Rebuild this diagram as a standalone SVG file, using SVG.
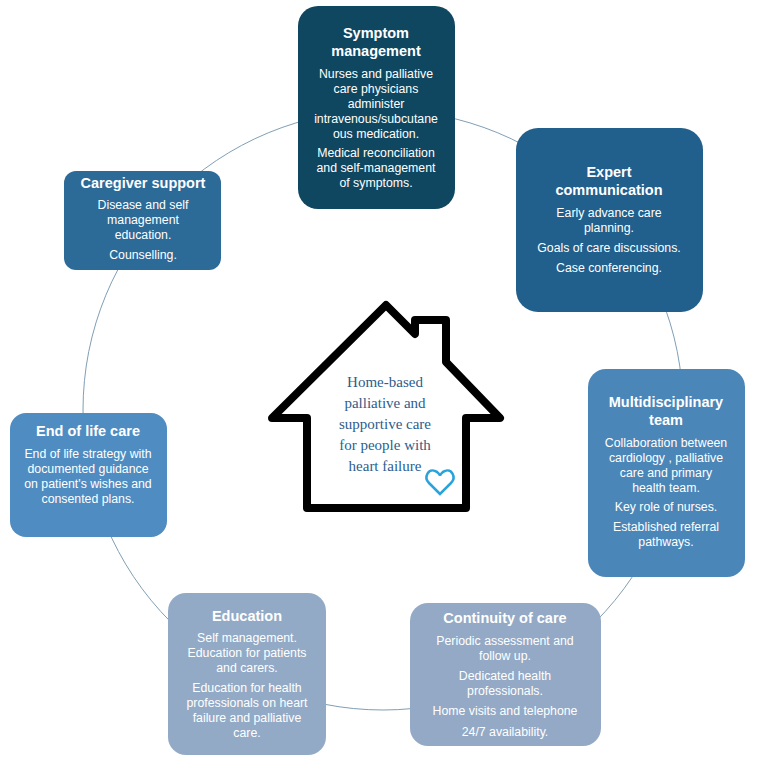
<svg xmlns="http://www.w3.org/2000/svg" width="766" height="758" viewBox="0 0 766 758">
<style>
.t{font-family:"Liberation Sans",Arial,sans-serif;font-weight:bold;font-size:14.5px;fill:#fff;text-anchor:middle}
.b{font-family:"Liberation Sans",Arial,sans-serif;font-size:12.3px;fill:#fff;text-anchor:middle}
.h{font-family:"Liberation Serif","Times New Roman",serif;font-size:15px;fill:#2d5d8c;text-anchor:middle}
</style>
<rect width="766" height="758" fill="#fff"/>
<g id="connectors"><circle cx="383" cy="410" r="300" fill="none" stroke="#7f9fb5" stroke-width="1"/></g>
<g id="house">
<path d="M307,418 H272 L386,305 L415,334 V320 H446 V362 L500,418 H466 V508 H307 Z" fill="#fff" stroke="#000" stroke-width="8" stroke-linejoin="round"/>
<text class="h" x="385" y="387">Home-based</text>
<text class="h" x="385" y="408">palliative and</text>
<text class="h" x="385" y="429">supportive care</text>
<text class="h" x="385" y="450">for people with</text>
<text class="h" x="385" y="471">heart failure</text>
<path d="M440,494 L429,483 C423,477 429,468 435,471 C438,472 440,475 440,476 C440,475 442,472 445,471 C451,468 457,477 451,483 Z" fill="none" stroke="#29a3dc" stroke-width="2.5"/>
</g>
<g id="symptom">
<rect x="298" y="6" width="157" height="203" rx="20" fill="#0f4761"/>
<text class="t" x="376" y="38">Symptom</text><text class="t" x="376" y="56">management</text>
<text class="b" x="376" y="78">Nurses and palliative</text><text class="b" x="376" y="93">care physicians</text><text class="b" x="376" y="108">administer</text><text class="b" x="376" y="123">intravenous/subcutane</text><text class="b" x="376" y="138">ous medication.</text>
<text class="b" x="376" y="157">Medical reconciliation</text><text class="b" x="376" y="172">and self-management</text><text class="b" x="376" y="187">of symptoms.</text>
</g>
<g id="expert">
<rect x="516" y="128" width="187" height="184" rx="22" fill="#215f8c"/>
<text class="t" x="609" y="177">Expert</text><text class="t" x="609" y="195">communication</text>
<text class="b" x="609" y="217">Early advance care</text><text class="b" x="609" y="232">planning.</text>
<text class="b" x="609" y="252">Goals of care discussions.</text>
<text class="b" x="609" y="272">Case conferencing.</text>
</g>
<g id="caregiver">
<rect x="64" y="171" width="157" height="99" rx="12" fill="#2c6a98"/>
<text class="t" x="143" y="188">Caregiver support</text>
<text class="b" x="143" y="209">Disease and self</text><text class="b" x="143" y="224">management</text><text class="b" x="143" y="239">education.</text>
<text class="b" x="143" y="259">Counselling.</text>
</g>
<g id="multidisciplinary">
<rect x="588" y="369" width="157" height="208" rx="18" fill="#4a86b8"/>
<text class="t" x="666" y="407">Multidisciplinary</text><text class="t" x="666" y="425">team</text>
<text class="b" x="666" y="447">Collaboration between</text><text class="b" x="666" y="462">cardiology , palliative</text><text class="b" x="666" y="477">care and primary</text><text class="b" x="666" y="492">health team.</text>
<text class="b" x="666" y="511">Key role of nurses.</text>
<text class="b" x="666" y="531">Established referral</text><text class="b" x="666" y="546">pathways.</text>
</g>
<g id="endoflife">
<rect x="10" y="413" width="157" height="124" rx="16" fill="#4f8cc1"/>
<text class="t" x="88" y="436">End of life care</text>
<text class="b" x="88" y="458">End of life strategy with</text><text class="b" x="88" y="473">documented guidance</text><text class="b" x="88" y="488">on patient's wishes and</text><text class="b" x="88" y="503">consented plans.</text>
</g>
<g id="education">
<rect x="168" y="593" width="158" height="162" rx="18" fill="#93aac6"/>
<text class="t" x="247" y="621">Education</text>
<text class="b" x="247" y="642">Self management.</text><text class="b" x="247" y="657">Education for patients</text><text class="b" x="247" y="672">and carers.</text>
<text class="b" x="247" y="692">Education for health</text><text class="b" x="247" y="707">professionals on heart</text><text class="b" x="247" y="722">failure and palliative</text><text class="b" x="247" y="737">care.</text>
</g>
<g id="continuity">
<rect x="410" y="603" width="191" height="143" rx="18" fill="#93a9c5"/>
<text class="t" x="505" y="623">Continuity of care</text>
<text class="b" x="505" y="645">Periodic assessment and</text><text class="b" x="505" y="660">follow up.</text>
<text class="b" x="505" y="680">Dedicated health</text><text class="b" x="505" y="695">professionals.</text>
<text class="b" x="505" y="715">Home visits and telephone</text>
<text class="b" x="505" y="736">24/7 availability.</text>
</g>
</svg>
